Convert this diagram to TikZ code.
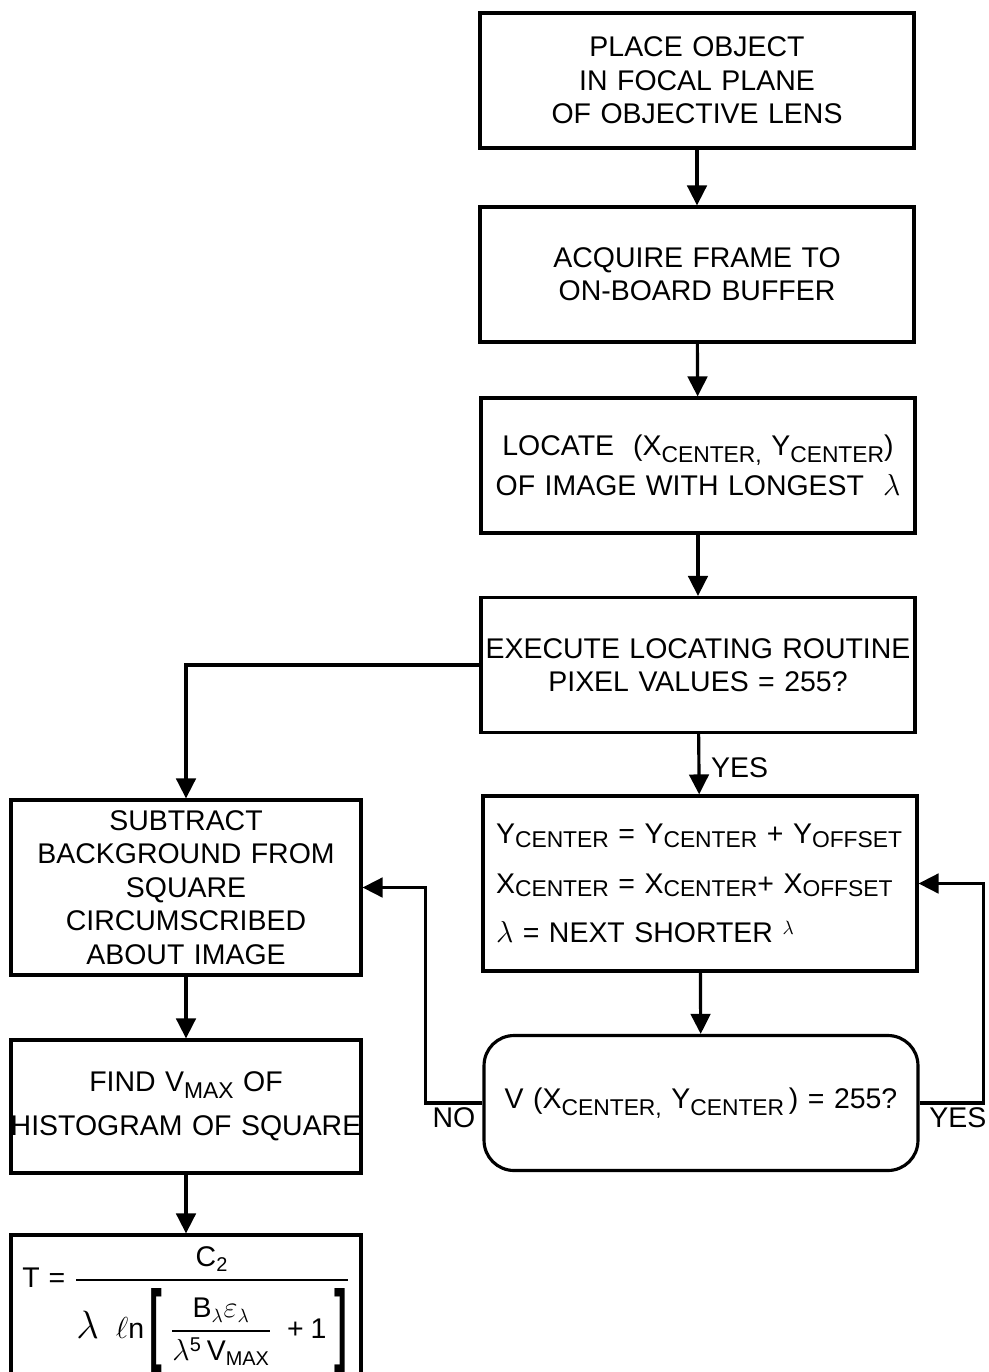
\documentclass[tikz,border=0pt]{standalone}
\usepackage{amsmath}
\usepackage{graphicx}
\usepackage{fontspec}
\setmainfont{Liberation Sans}
\usetikzlibrary{arrows.meta}

\newcommand{\bodyfont}{\fontsize{16.2pt}{19pt}\selectfont}
\newcommand{\lowtext}[2][0.45ex]{\raisebox{-#1}{\fontsize{13pt}{13pt}\selectfont #2}}
\newcommand{\bigbracket}[1]{\vcenter{\hbox{\scalebox{1.35}[3.2]{\bfseries #1}}}}
\newcommand{\biglam}{\scalebox{1.3}{$\lambda$}}

\begin{document}
\begin{tikzpicture}[x=0.02cm, y=-0.02cm, >={Triangle[length=4mm, width=3.9mm]},
  line width=1.8pt,
  box/.style={draw, inner sep=0.15cm, text width=8.38cm, minimum height=2.7cm, align=center, font=\bodyfont},
  leftbox/.style={box, text width=6.7cm},
  testbox/.style={box, rounded corners=0.6cm},
  answer/.style={font=\bodyfont, inner sep=2pt}]
  \useasboundingbox (0,0) rectangle (988,1372);

  \node[box] (place) at (697,80.5) {PLACE OBJECT\\IN FOCAL PLANE\\OF OBJECTIVE LENS};
  \node[box] (acquire) at (697,274.5) {ACQUIRE FRAME TO\\ON-BOARD BUFFER};
  \node[box] (locate) at (698,465.5) {LOCATE~~(X\lowtext{CENTER,} Y\lowtext{CENTER})\\[4pt]OF IMAGE WITH LONGEST~~$\lambda$};
  \node[box] (execute) at (698,665) {\makebox[8.38cm]{EXECUTE LOCATING ROUTINE}\\PIXEL VALUES = 255?};
  \node[box, align=left, inner xsep=0.26cm, text width=8.16cm, minimum height=3.5cm] (update) at (700,883.5) {\mbox{Y\lowtext[0.25ex]{CENTER}\,\,= Y\lowtext[0.25ex]{CENTER} + Y\lowtext[0.25ex]{OFFSET}}\\[9pt]\mbox{X\lowtext[0.25ex]{CENTER} = X\lowtext[0.25ex]{CENTER}+ X\lowtext[0.25ex]{OFFSET}}\\[9pt]$\lambda$ = NEXT SHORTER \raisebox{0.5ex}{$\scriptstyle\lambda$}};
  \node[testbox] (test) at (701,1103) {V (X\lowtext{CENTER,} Y\lowtext{CENTER}\,) = 255?};

  \node[leftbox, minimum height=3.5cm] (subtract) at (186,887.5) {SUBTRACT\\BACKGROUND FROM\\SQUARE\\CIRCUMSCRIBED\\ABOUT IMAGE};
  \node[leftbox, minimum height=2.66cm] (find) at (186,1106.5) {FIND V\lowtext{MAX} OF\\[6pt]\makebox[6.7cm]{HISTOGRAM OF SQUARE}};
  \node[leftbox, minimum height=3cm] (temp) at (186,1310) {$\text{T}\mathrel{\text{=}}\genfrac{}{}{1.4pt}{0}{\text{C}_{\text{2}}}{\biglam\;\;\ell\text{n}\,\bigbracket{[}\;\genfrac{}{}{1.2pt}{0}{\text{B}_{\lambda}\varepsilon_{\lambda}}{\lambda^{\text{5}}\,\text{V}_{\text{MAX}}}\;\mathbin{\text{+}}\text{1}\;\bigbracket{]}}$};

  \draw[->] (place) -- (acquire);
  \draw[->] (acquire) -- (locate);
  \draw[->] (locate) -- (execute);
  \draw[->] (execute) -- node[answer, right=4pt, pos=0.55]{YES} (update);
  \draw[->] (execute.west) -| (subtract.north);
  \draw[->] (update) -- (test);
  \draw[->] (test.west) -- node[answer, below]{NO} ++(-57,0) |- (subtract.east);
  \draw[->] (test.east) -- node[answer, below, pos=0.6]{YES} ++(64,0) |- (update.east);
  \draw[->] (subtract) -- (find);
  \draw[->] (find) -- (temp);
\end{tikzpicture}
\end{document}
